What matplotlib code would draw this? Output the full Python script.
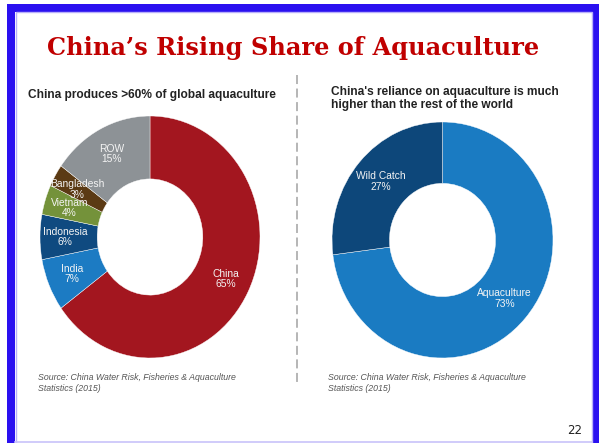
import matplotlib
matplotlib.use("Agg")
import matplotlib.pyplot as plt
from matplotlib.patches import Rectangle
from matplotlib.lines import Line2D

# ---- data ----
left_labels = ["China", "India", "Indonesia", "Vietnam", "Bangladesh", "ROW"]
left_values = [65, 7, 6, 4, 3, 15]
left_colors = ["#A3161F", "#1C7BC3", "#0F4A80", "#74923A", "#5B3A14", "#8D9296"]

right_labels = ["Aquaculture", "Wild Catch"]
right_values = [73, 27]
right_colors = ["#1A7BC2", "#0D477A"]

title = "China\u2019s Rising Share of Aquaculture"
left_sub = "China produces >60% of global aquaculture"
right_sub = "China's reliance on aquaculture is much\nhigher than the rest of the world"
source = "Source: China Water Risk, Fisheries & Aquaculture\nStatistics (2015)"
page_no = "22"

W, H = 599, 443
fig = plt.figure(figsize=(W / 100, H / 100), dpi=100)
fig.patch.set_facecolor("white")


def fx(x):
    return x / W


def fy(y):
    return 1 - y / H


def donut(box, values, labels, colors, ldist):
    x0, y0, x1, y1 = box
    ax = fig.add_axes([fx(x0), fy(y1), fx(x1) - fx(x0), fy(y0) - fy(y1)])
    wedges, texts = ax.pie(
        values,
        labels=[f"{l}\n{v}%" for l, v in zip(labels, values)],
        colors=colors,
        startangle=90,
        counterclock=False,
        labeldistance=ldist,
        radius=1.0,
        wedgeprops=dict(width=0.52, edgecolor="white", linewidth=0.3),
        textprops=dict(color="#F4F4F4", fontsize=7.4, family="Liberation Sans",
                       ha="center", va="center", linespacing=1.05),
    )
    for t in texts:
        t.set_ha("center")
        t.set_va("center")
    ax.set_aspect("auto")
    ax.set_xlim(-1, 1)
    ax.set_ylim(-1, 1)
    ax.axis("off")
    return ax


donut((40, 116, 260, 358), left_values, left_labels, left_colors, 0.77)
donut((332, 122, 553, 358), right_values, right_labels, right_colors, 0.75)

# title
fig.text(fx(293), fy(48.5), title, ha="center", va="center", color="#C00000",
         fontsize=17.3, fontweight="bold", family="DejaVu Serif")

# subtitles
fig.text(fx(28), fy(95), left_sub, ha="left", va="center", color="#222222",
         fontsize=8.6, fontweight="bold", family="Liberation Sans")
fig.text(fx(331), fy(98.5), right_sub, ha="left", va="center", color="#222222",
         fontsize=8.6, fontweight="bold", family="Liberation Sans", linespacing=1.1)

# sources
fig.text(fx(38), fy(383), source, ha="left", va="center", color="#555555",
         fontsize=6.3, style="italic", family="Liberation Sans", linespacing=1.15)
fig.text(fx(328), fy(383), source, ha="left", va="center", color="#555555",
         fontsize=6.3, style="italic", family="Liberation Sans", linespacing=1.15)

# page number
fig.text(fx(575), fy(431), page_no, ha="center", va="center", color="#222222",
         fontsize=8.5, family="DejaVu Sans")

# dashed divider
fig.add_artist(Line2D([fx(297), fx(297)], [fy(75), fy(385)], color="#B0B0B0",
                      linewidth=1.3, linestyle=(0, (5, 2.5)), transform=fig.transFigure))

# blue frame
lw_px = 8
fig.add_artist(Rectangle((fx(7 + lw_px / 2), fy(460)), fx(592 - 7), fy(4 + lw_px / 2) - fy(460),
                         fill=False, edgecolor="#2A10F0", linewidth=lw_px * 0.72,
                         transform=fig.transFigure))
fig.add_artist(Rectangle((fx(15.5), fy(460)), fx(591.5 - 15.5), fy(11.5) - fy(460),
                         fill=False, edgecolor="#B8B0FA", linewidth=1.0,
                         transform=fig.transFigure))
fig.add_artist(Line2D([fx(15), fx(592)], [fy(441.5), fy(441.5)], color="#C8C2FA",
                      linewidth=1.2, transform=fig.transFigure))

fig.savefig("out.png", dpi=100)
